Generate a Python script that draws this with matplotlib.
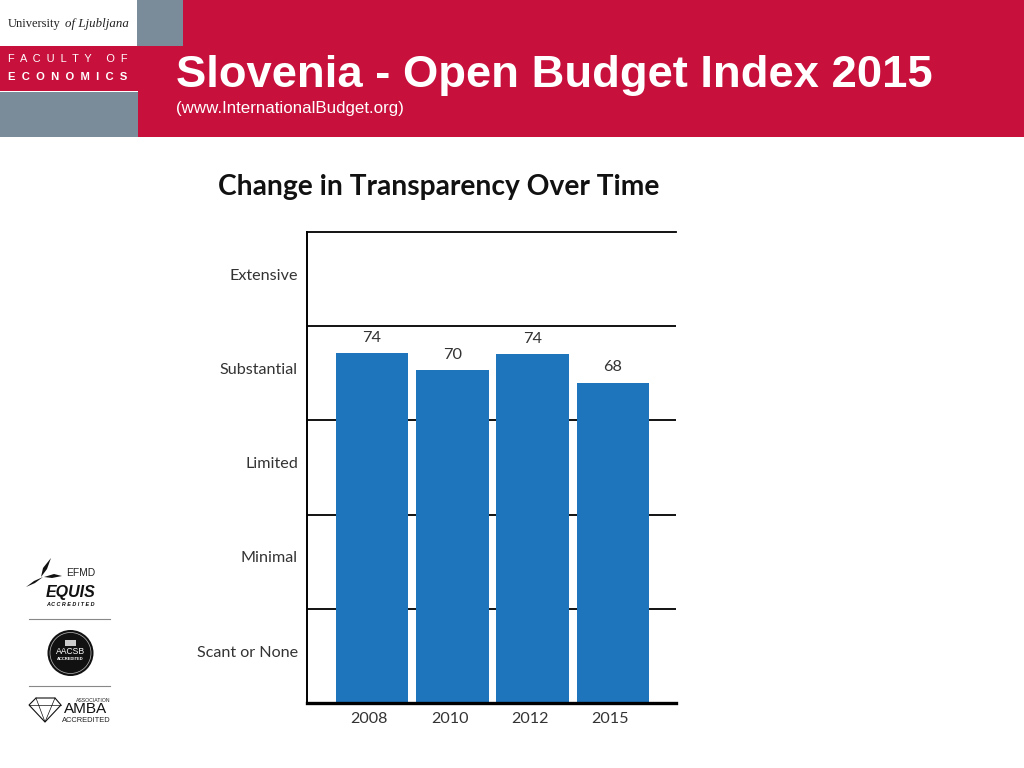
import matplotlib
matplotlib.use("Agg")
import matplotlib.pyplot as plt
from matplotlib.patches import Rectangle, Circle, Polygon

years = ["2008", "2010", "2012", "2015"]
bar_heights = [74.3, 70.7, 74.0, 68.0]
value_labels = ["74", "70", "74", "68"]
bands = ["Scant or None", "Minimal", "Limited", "Substantial", "Extensive"]
band_edges = [20, 40, 60, 80]

RED = "#C8103C"
GREY = "#7A8B99"
BLUE = "#1F75BC"
NARROW = "Lato"

fig = plt.figure(figsize=(10.24, 7.68), dpi=100, facecolor="white")

# page furniture in pixel coordinates
bg = fig.add_axes([0, 0, 1, 1], zorder=0)
bg.set_xlim(0, 1024)
bg.set_ylim(768, 0)
bg.axis("off")
bg.add_patch(Rectangle((138, 0), 886, 137, color=RED, lw=0))
bg.add_patch(Rectangle((137, 0), 46, 45.5, color=GREY, lw=0))
bg.add_patch(Rectangle((0, 0), 137, 45.5, color="white", lw=0))
bg.add_patch(Rectangle((0, 46), 137.5, 45, color=RED, lw=0))
bg.add_patch(Rectangle((0, 91.5), 137.5, 45.5, color=GREY, lw=0))

bg.text(176, 75, "Slovenia - Open Budget Index 2015", color="white", family="Liberation Sans",
        weight="bold", fontsize=32.7, va="center", ha="left")
bg.text(176, 108, "(www.InternationalBudget.org)", color="white", family="Liberation Sans",
        fontsize=12.2, va="center", ha="left")

bg.text(8, 23.5, "University", family="Liberation Serif", fontsize=9, color="#222222", va="center")
bg.text(65, 23.5, "of Ljubljana", family="Liberation Serif", style="italic", fontsize=9.3,
        color="#222222", va="center")
bg.text(8, 59, "F  A  C  U  L  T  Y     O  F", family="Liberation Sans", fontsize=7.9, color="white", va="center")
bg.text(8, 77, "E  C  O  N  O  M  I  C  S", family="Liberation Sans", weight="bold", fontsize=8.1, color="white", va="center")

# accreditation logos
bg.add_patch(Polygon([(26, 587), (34, 581), (43, 577), (35, 583)], color="#111111", lw=0))
bg.add_patch(Polygon([(41, 577), (43, 568), (51, 558), (47, 569)], color="#111111", lw=0))
bg.add_patch(Polygon([(44, 577), (54, 574), (62, 576), (52, 578)], color="#111111", lw=0))
bg.text(66, 573, "EFMD", family="Liberation Sans", fontsize=7.4, color="#222222", va="center")
bg.text(46, 592, "EQUIS", family="Liberation Sans", weight="bold", style="italic", fontsize=11.5,
        color="#111111", va="center")
bg.text(70.5, 605, "A C C R E D I T E D", family="Liberation Sans", weight="bold", style="italic",
        fontsize=3.9, color="#111111", va="center", ha="center")
bg.plot([29, 110], [619, 619], color="#888888", lw=0.8)
bg.plot([29, 110], [686, 686], color="#888888", lw=0.8)
bg.add_patch(Circle((70.5, 653), 23, color="#111111", lw=0))
bg.add_patch(Circle((70.5, 653), 20.5, fill=False, ec="#bbbbbb", lw=0.5))
bg.add_patch(Rectangle((65, 640), 11, 6, color="#cccccc", lw=0))
bg.text(70.5, 652, "AACSB", family="Liberation Sans", fontsize=6.2, color="white", va="center", ha="center")
bg.text(70.5, 659, "ACCREDITED", family="Liberation Sans", weight="bold", fontsize=3, color="white",
        va="center", ha="center")
diamond = [(29, 705), (36, 698), (55, 698), (61, 705), (45, 722)]
bg.add_patch(Polygon(diamond, fill=False, ec="#111111", lw=0.8))
bg.plot([29, 61], [705, 705], color="#111111", lw=0.5)
bg.plot([36, 45, 55], [698, 722, 698], color="#111111", lw=0.5)
bg.text(110, 700.5, "ASSOCIATION", family="Liberation Sans", fontsize=3.7, color="#222222", va="center", ha="right")
bg.text(86, 709, "AMBA", family="Liberation Sans", fontsize=11, color="#111111", va="center", ha="center")
bg.text(86, 720.5, "ACCREDITED", family="Liberation Sans", fontsize=5.4, color="#222222", va="center", ha="center")

bg.text(218, 187, "Change in Transparency Over Time", family="Lato", weight="bold", fontsize=20.25,
        color="#111111", va="center", ha="left")

# chart
ax = fig.add_axes([307 / 1024, 65 / 768, 369 / 1024, 471 / 768], zorder=1)
ax.patch.set_alpha(0)
x = list(range(len(years)))
ax.set_xlim(-0.81, 3.786)
ax.set_ylim(0, 100)
ax.hlines(band_edges, -0.81, 3.786, color="black", lw=1.3, zorder=1)
bars = ax.bar(x, bar_heights, width=0.903, color=BLUE, zorder=2)
ax.bar_label(bars, labels=value_labels, padding=6, family=NARROW, fontsize=11.8, color="#333333")

ax.set_xticks([i - 0.035 for i in x], years)
ax.set_yticks([11 + 20 * i for i in range(len(bands))], bands)
ax.tick_params(axis="both", length=0, labelcolor="#333333")
ax.tick_params(axis="x", pad=6.5)
ax.tick_params(axis="y", pad=6.5)
for lab in ax.get_xticklabels() + ax.get_yticklabels():
    lab.set_family(NARROW)
    lab.set_fontsize(11.6)

ax.spines["right"].set_visible(False)
ax.spines["left"].set_linewidth(1.4)
ax.spines["top"].set_linewidth(1.3)
ax.spines["bottom"].set_linewidth(2.4)

fig.savefig("out.png", dpi=100)
